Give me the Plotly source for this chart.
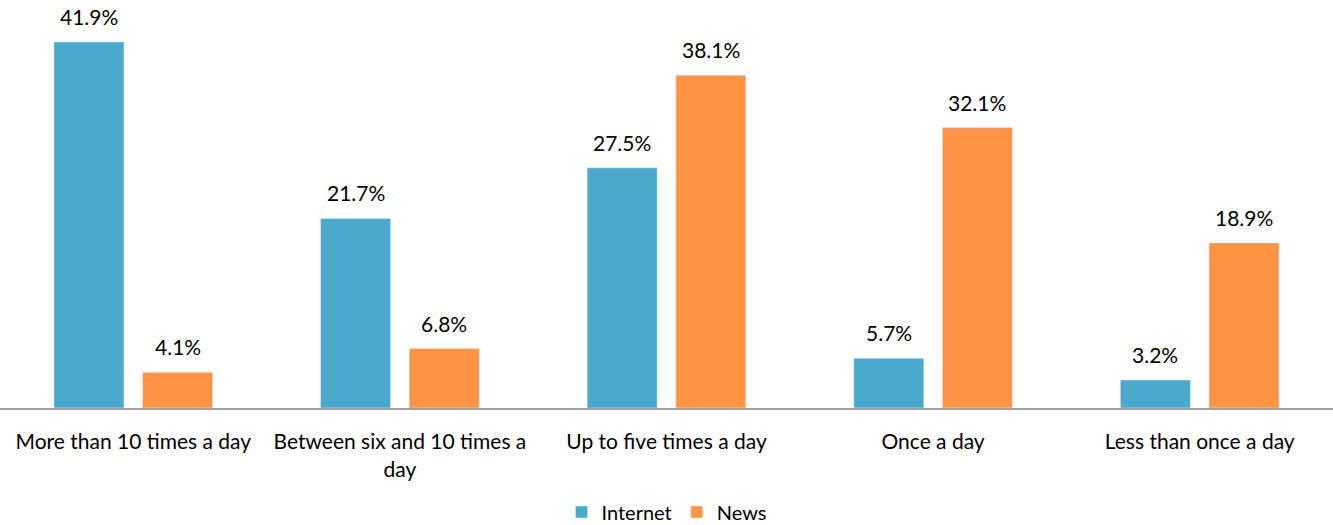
import plotly.graph_objects as go

categories = ["More than 10 times a day", "Between six and 10 times a<br>day",
              "Up to five times a day", "Once a day", "Less than once a day"]
internet = [41.9, 21.7, 27.5, 5.7, 3.2]
news = [4.1, 6.8, 38.1, 32.1, 18.9]

font = "Lato, 'Open Sans', sans-serif"
W, H = 1333, 525
bargap, bargroupgap = 0.335, 0.21
slot_px = W / len(categories) * (1 - bargap) / 2

fig = go.Figure()
fig.add_trace(go.Bar(name="Internet", x=categories, y=internet, marker_color="#4BA9CD"))
fig.add_trace(go.Bar(name="News", x=categories, y=news, marker_color="#FF9446"))

annotations = []
for series, sign in ((internet, -1), (news, 1)):
    for c, v in zip(categories, series):
        annotations.append(dict(x=c, y=v, text=f"{v:.1f}%", showarrow=False,
                                xshift=sign * slot_px / 2, yshift=11, yanchor="bottom",
                                font=dict(size=21, color="#000000")))

fig.update_layout(
    width=W, height=H, barmode="group", bargap=bargap, bargroupgap=bargroupgap,
    margin=dict(l=0, r=0, t=0, b=117, autoexpand=False),
    plot_bgcolor="white", paper_bgcolor="white",
    font=dict(family=font, size=21, color="#000000"),
    legend=dict(orientation="h", x=0.5, xanchor="center", y=-0.255, yanchor="middle",
                font=dict(size=20), itemwidth=30, traceorder="normal",
                tracegroupgap=0),
    xaxis=dict(showline=True, linecolor="#A0A0A0", linewidth=2, ticks="",
               tickfont=dict(size=21), automargin=False, ticklabelstandoff=14),
    yaxis=dict(range=[0, 46.7], visible=False, automargin=False),
    annotations=annotations,
)
fig.write_html("out.html")
